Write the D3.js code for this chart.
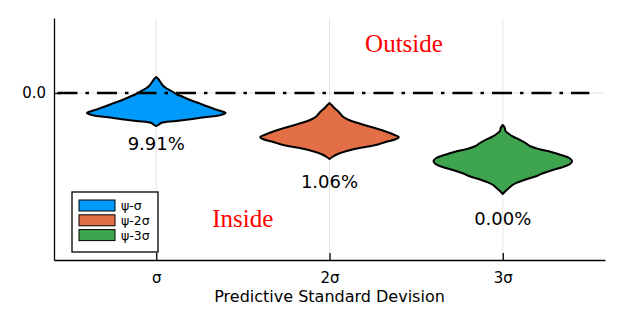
<!DOCTYPE html>
<html><head><meta charset="utf-8">
<script src="https://cdn.jsdelivr.net/npm/d3@7"></script>
<style>body{margin:0;background:#fff}svg{display:block}</style>
</head><body>
<svg id="c" width="623" height="312"></svg>
<script>
const categories = ["σ", "2σ", "3σ"];
const seriesNames = ["ψ-σ", "ψ-2σ", "ψ-3σ"];
const colors = ["#009AFA", "#E36F47", "#3EA44E"];
const percentLabels = ["9.91%", "1.06%", "0.00%"];
const yTicks = [0.0];
// violin density profiles: [value, normalized density]
const violinBlue = [[0.16,0],[0.14,0.03],[0.11,0.06],[0.08,0.09],[0.05,0.14],[0.02,0.22],[-0.01,0.29],[-0.04,0.39],[-0.07,0.49],[-0.10,0.61],[-0.13,0.72],[-0.16,0.84],[-0.18,0.93],[-0.20,1.0],[-0.22,0.93],[-0.25,0.62],[-0.28,0.29],[-0.30,0.07],[-0.32,0.03],[-0.33,0]];
const violinOrange = [[-0.10,0],[-0.12,0.03],[-0.15,0.07],[-0.18,0.12],[-0.21,0.16],[-0.24,0.20],[-0.27,0.28],[-0.30,0.41],[-0.33,0.55],[-0.36,0.70],[-0.39,0.83],[-0.42,0.94],[-0.44,1.0],[-0.46,0.96],[-0.49,0.81],[-0.52,0.67],[-0.55,0.43],[-0.58,0.25],[-0.61,0.12],[-0.64,0.04],[-0.66,0]];
const violinGreen = [[-0.32,0],[-0.35,0.03],[-0.38,0.04],[-0.41,0.09],[-0.44,0.16],[-0.47,0.25],[-0.50,0.33],[-0.53,0.39],[-0.56,0.52],[-0.59,0.70],[-0.62,0.84],[-0.65,0.96],[-0.68,1.0],[-0.71,0.97],[-0.74,0.87],[-0.77,0.72],[-0.80,0.59],[-0.83,0.49],[-0.86,0.35],[-0.89,0.23],[-0.92,0.14],[-0.95,0.09],[-0.98,0.04],[-1.01,0]];
const violins = [violinBlue, violinOrange, violinGreen];
const percentY = [-0.57, -0.95, -1.32];
const annotations = [{text:"Outside", x:2.43, y:0.41}, {text:"Inside", x:1.5, y:-1.34}];
const xLabel = "Predictive Standard Devision";

const svg = d3.select("#c");
const m = {l:54, r:18, t:18, b:52};
const W = 623, H = 312;
const x = d3.scaleLinear().domain([0.41, 3.59]).range([m.l, W - m.r]);
const y = d3.scaleLinear().domain([-1.67, 0.75]).range([H - m.b, m.t]);

// grid
const g = svg.append("g");
g.selectAll(".vg").data([1,2,3]).join("line")
  .attr("x1", d => x(d)).attr("x2", d => x(d))
  .attr("y1", y.range()[0]).attr("y2", y.range()[1])
  .attr("stroke", "#000").attr("stroke-opacity", 0.1).attr("stroke-width", 1);
g.selectAll(".hg").data(yTicks).join("line")
  .attr("x1", x.range()[0]).attr("x2", x.range()[1])
  .attr("y1", d => y(d)).attr("y2", d => y(d))
  .attr("stroke", "#000").attr("stroke-opacity", 0.1).attr("stroke-width", 1);

// violins
const hw = d3.scaleLinear().domain([0,1]).range([0, x(1.4) - x(1)]);
violins.forEach((v, i) => {
  const cx = x(i + 1);
  const area = d3.area()
    .y(d => y(d[0]))
    .x0(d => cx - hw(d[1]))
    .x1(d => cx + hw(d[1]))
    .curve(d3.curveCatmullRom);
  svg.append("path").datum(v).attr("d", area)
    .attr("fill", colors[i]).attr("stroke", "#000").attr("stroke-width", 2)
    .attr("stroke-linejoin", "round");
});

// dash-dot line at 0
svg.append("line")
  .attr("x1", x(0.43)).attr("x2", x(3.5))
  .attr("y1", y(0)).attr("y2", y(0))
  .attr("stroke", "#000").attr("stroke-width", 2.6)
  .attr("stroke-dasharray", "20,8,3.5,8");

// axes
const xAxis = d3.axisBottom(x).tickValues([1,2,3]).tickFormat((d,i) => categories[i])
  .tickSizeInner(-7).tickSizeOuter(0).tickPadding(12);
const ax = svg.append("g").attr("transform", `translate(0,${H - m.b})`).call(xAxis);
ax.select(".domain").attr("stroke", "#000").attr("stroke-width", 1.3);
ax.selectAll(".tick line").attr("stroke", "#000").attr("stroke-width", 1.3);
ax.selectAll("text").attr("font-family", "DejaVu Sans").attr("font-size", 15).attr("fill", "#000");

const yAxis = d3.axisLeft(y).tickValues(yTicks).tickFormat(d3.format(".1f"))
  .tickSizeInner(-7).tickSizeOuter(0).tickPadding(8);
const ay = svg.append("g").attr("transform", `translate(${m.l},0)`).call(yAxis);
ay.select(".domain").attr("stroke", "#000").attr("stroke-width", 1.3);
ay.selectAll(".tick line").attr("stroke", "#000").attr("stroke-width", 1.3);
ay.selectAll("text").attr("font-family", "DejaVu Sans").attr("font-size", 15).attr("fill", "#000");

svg.append("text").attr("x", (x.range()[0] + x.range()[1]) / 2).attr("y", 302)
  .attr("text-anchor", "middle").attr("font-family", "DejaVu Sans").attr("font-size", 16)
  .text(xLabel);

// percentages
percentLabels.forEach((t, i) => {
  svg.append("text").attr("x", x(i + 1)).attr("y", y(percentY[i]))
    .attr("text-anchor", "middle").attr("font-family", "DejaVu Sans").attr("font-size", 18)
    .text(t);
});

// annotations
annotations.forEach(a => {
  svg.append("text").attr("x", x(a.x)).attr("y", y(a.y))
    .attr("text-anchor", "middle").attr("font-family", "Liberation Serif").attr("font-size", 25)
    .attr("fill", "#ff0000").text(a.text);
});

// legend
const lg = svg.append("g").attr("transform", "translate(72,192)");
lg.append("rect").attr("width", 86).attr("height", 60).attr("fill", "#fff")
  .attr("stroke", "#000").attr("stroke-width", 1.3);
const rowH = 14.8;
seriesNames.forEach((n, i) => {
  lg.append("rect").attr("x", 7).attr("y", 8 + i * rowH).attr("width", 36).attr("height", 11)
    .attr("fill", colors[i]).attr("stroke", "#000").attr("stroke-width", 1);
  lg.append("text").attr("x", 49).attr("y", 18 + i * rowH)
    .attr("font-family", "DejaVu Sans").attr("font-size", 12.5).text(n);
});
</script>
</body></html>
